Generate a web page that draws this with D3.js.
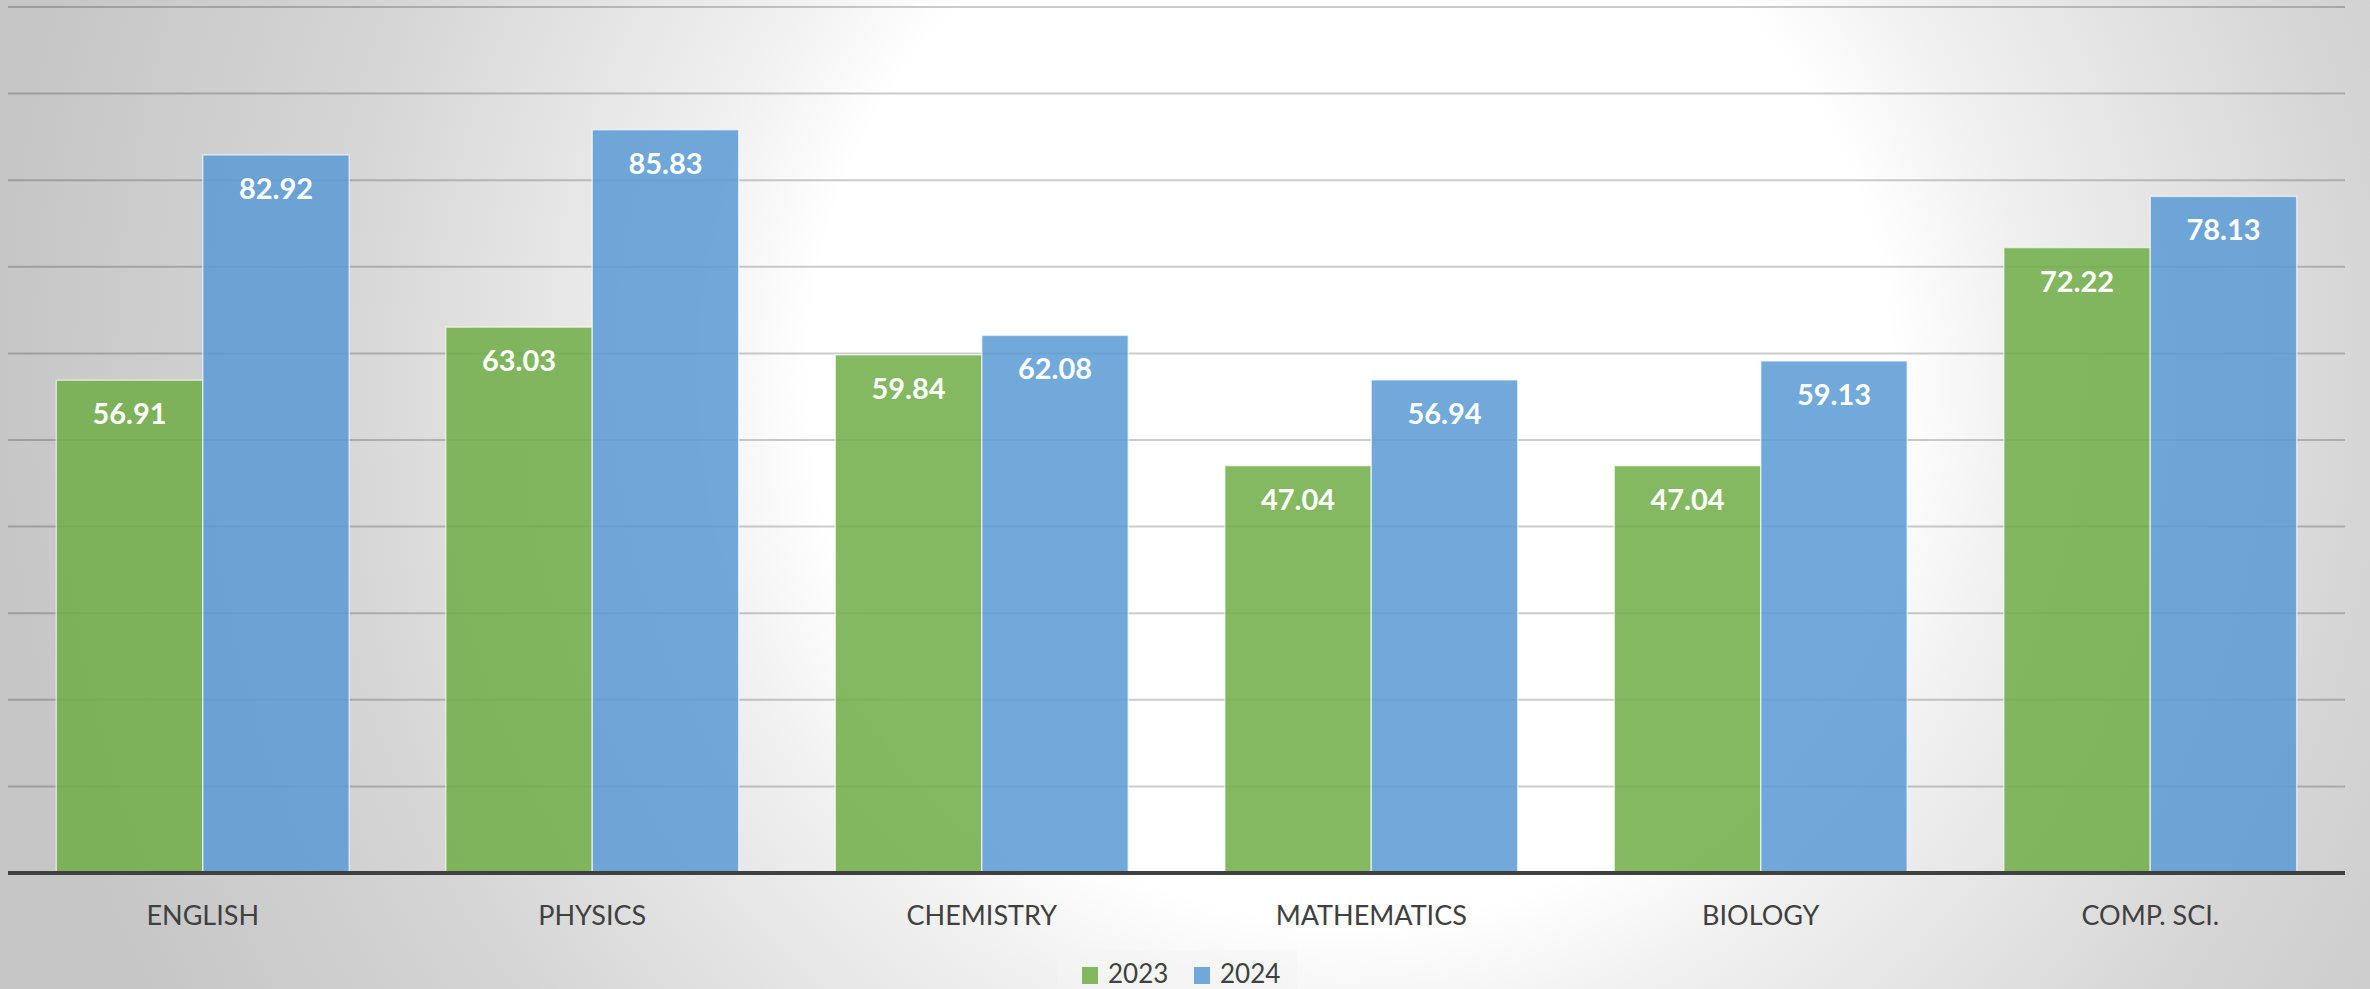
<!DOCTYPE html>
<html>
<head>
<meta charset="utf-8">
<script src="https://cdn.jsdelivr.net/npm/d3@7"></script>
<style>
  html, body { margin: 0; padding: 0; overflow: hidden; }
  svg { display: block; }
  .catLabel { font-family: Lato, "Open Sans", sans-serif; font-size: 27px; fill: #404040; }
  .valLabel { font-family: Lato, "Open Sans", sans-serif; font-size: 29px; font-weight: bold; fill: #ffffff; }
  .legLabel { font-family: Lato, "Open Sans", sans-serif; font-size: 26px; fill: #404040; }
</style>
</head>
<body>
<svg id="chart"></svg>
<script>
// CHART DATA
var subjects = ["ENGLISH", "PHYSICS", "CHEMISTRY", "MATHEMATICS", "BIOLOGY", "COMP. SCI."];
var values2023 = [56.91, 63.03, 59.84, 47.04, 47.04, 72.22];
var values2024 = [82.92, 85.83, 62.08, 56.94, 59.13, 78.13];
var years = ["2023", "2024"];
var yTicks = [10, 20, 30, 40, 50, 60, 70, 80, 90, 100];

// SIZING
var width = 2370;
var height = 989;
var plotLeft = 8;
var plotRight = 2345;
var plotTop = 7;
var plotBottom = 873;

var colors = { "2023": "#70AD47", "2024": "#5B9BD5" };

var svg = d3.select("#chart")
	.attr("width", width)
	.attr("height", height);

// BACKGROUND GRADIENT
var defs = svg.append("defs");
var grad = defs.append("radialGradient")
	.attr("id", "bg")
	.attr("gradientUnits", "userSpaceOnUse")
	.attr("cx", 1350).attr("cy", 380)
	.attr("r", 1350);
grad.append("stop").attr("offset", "0").attr("stop-color", "#ffffff");
grad.append("stop").attr("offset", "0.4").attr("stop-color", "#ffffff");
grad.append("stop").attr("offset", "0.5").attr("stop-color", "#f0f0f0");
grad.append("stop").attr("offset", "0.76").attr("stop-color", "#d5d5d5");
grad.append("stop").attr("offset", "1").attr("stop-color", "#c6c6c6");

svg.append("rect")
	.attr("width", width)
	.attr("height", height)
	.attr("fill", "url(#bg)");

// SCALES
var x0 = d3.scaleBand()
	.domain(subjects)
	.range([plotLeft, plotRight])
	.paddingInner(0.248)
	.paddingOuter(0.124);

var x1 = d3.scaleBand()
	.domain(years)
	.range([0, x0.bandwidth()]);

var yScale = d3.scaleLinear()
	.domain([0, 100])
	.range([plotBottom, plotTop]);

// GRIDLINES
svg.append("g")
	.selectAll("line")
	.data(yTicks)
	.enter()
	.append("line")
	.attr("x1", plotLeft)
	.attr("x2", plotRight)
	.attr("y1", d => yScale(d))
	.attr("y2", d => yScale(d))
	.style("stroke", "#000")
	.style("stroke-opacity", 0.2)
	.style("stroke-width", 2);

// BARS
var rows = subjects.map(function(s, i) {
	return { subject: s, vals: [ { year: "2023", v: values2023[i] }, { year: "2024", v: values2024[i] } ] };
});

var groups = svg.append("g")
	.selectAll("g")
	.data(rows)
	.enter()
	.append("g")
	.attr("transform", d => "translate(" + x0(d.subject) + ",0)");

groups.selectAll("rect")
	.data(d => d.vals)
	.enter()
	.append("rect")
	.attr("x", d => x1(d.year))
	.attr("y", d => yScale(d.v))
	.attr("width", x1.bandwidth())
	.attr("height", d => yScale(0) - yScale(d.v))
	.style("fill", d => colors[d.year])
	.style("fill-opacity", 0.86)
	.style("stroke", "#ffffff")
	.style("stroke-opacity", 0.6)
	.style("stroke-width", 1.5);

groups.selectAll("text")
	.data(d => d.vals)
	.enter()
	.append("text")
	.attr("class", "valLabel")
	.attr("x", d => x1(d.year) + x1.bandwidth() / 2)
	.attr("y", d => yScale(d.v) + 44)
	.attr("text-anchor", "middle")
	.text(d => d.v.toFixed(2));

// X AXIS
var xAxis = d3.axisBottom(x0).tickSize(0).tickPadding(30);
var axisG = svg.append("g")
	.attr("transform", "translate(0," + plotBottom + ")")
	.call(xAxis);
axisG.select(".domain")
	.attr("d", "M" + plotLeft + ",0H" + plotRight)
	.style("stroke", "#404040")
	.style("stroke-width", 4);
axisG.selectAll(".tick text")
	.attr("class", "catLabel")
	.attr("dy", null)
	.attr("y", 52)
	.style("font-family", null)
	.style("font-size", null);
axisG.attr("font-family", null).attr("font-size", null);

// LEGEND
var legend = svg.append("g");
legend.append("rect")
	.attr("x", 1057).attr("y", 950)
	.attr("width", 240).attr("height", 45)
	.attr("fill", "#f4f4f4")
	.attr("fill-opacity", 0.55);

var legItems = legend.selectAll("g.item")
	.data(years)
	.enter()
	.append("g")
	.attr("class", "item")
	.attr("transform", (d, i) => "translate(" + (1082 + i * 112) + ",0)");

legItems.append("rect")
	.attr("x", 0).attr("y", 967)
	.attr("width", 16).attr("height", 17)
	.style("fill", d => colors[d])
	.style("fill-opacity", 0.86);

legItems.append("text")
	.attr("class", "legLabel")
	.attr("x", 26).attr("y", 983)
	.text(d => d);
</script>
</body>
</html>
